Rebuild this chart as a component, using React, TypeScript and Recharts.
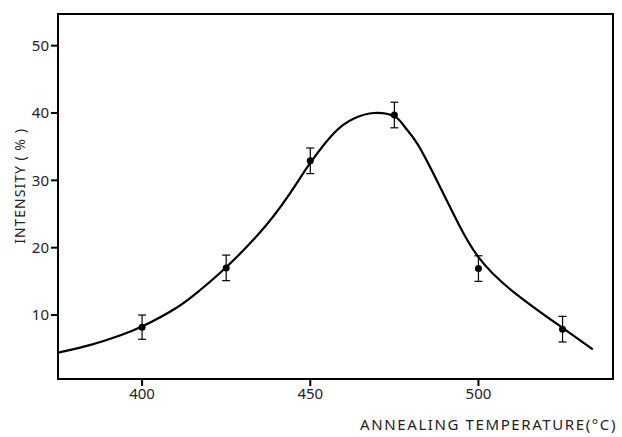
import React from "react";
import {
  ComposedChart, Line, Scatter, ErrorBar, XAxis, YAxis, ReferenceArea, Label,
} from "recharts";

// measured points (annealing temperature, intensity %, error)
const temps = [400, 425, 450, 475, 500, 525];
const intensity = [8.2, 17.0, 32.9, 39.7, 16.9, 7.9];
const errors = [1.8, 1.9, 1.9, 1.9, 1.9, 1.9];

// fitted curve
const curveX = [375, 385, 393, 400, 410, 417, 425, 437, 446, 450, 457, 463, 469, 475, 478, 482, 488, 494, 500, 510, 525, 534];
const curveY = [4.4, 5.6, 6.9, 8.3, 11.0, 13.6, 17.1, 23.4, 29.6, 32.6, 37.0, 39.2, 40.0, 39.5, 38.0, 35.3, 29.6, 23.6, 18.6, 13.6, 8.1, 4.9];

const xTicks = [400, 450, 500];
const yTicks = [10, 20, 30, 40, 50];

const points = temps.map((t, i) => ({ t, v: intensity[i], err: errors[i] }));
const curve = curveX.map((t, i) => ({ t, c: curveY[i] }));

const FONT = "'Noto Sans', sans-serif";
const X_DOMAIN: [number, number] = [375, 540];
const Y_DOMAIN: [number, number] = [0.5, 54.7];

const Dot = (props: any) => <circle cx={props.cx} cy={props.cy} r={3.5} fill="#000" />;

export default function App() {
  return (
    <div style={{ position: "absolute", left: 0, top: 0, background: "#fff" }}>
      <ComposedChart width={622} height={437} margin={{ top: 14, right: 9, bottom: 0, left: 0 }}>
        <XAxis
          type="number" dataKey="t" domain={X_DOMAIN} ticks={xTicks} allowDataOverflow
          height={58} stroke="#000" strokeWidth={2} tickSize={7}
          tick={{ fill: "#222", fontSize: 15, fontFamily: FONT }}
        >
          <Label
            content={({ viewBox }: any) => (
              <text x={viewBox.x + viewBox.width + 4} y={viewBox.y + 51} textAnchor="end"
                fill="#222" fontSize={15} fontFamily={FONT} letterSpacing={1.6}>
                ANNEALING TEMPERATURE(°C)
              </text>
            )}
          />
        </XAxis>
        <YAxis
          type="number" domain={Y_DOMAIN} ticks={yTicks} allowDataOverflow
          width={58} stroke="#000" strokeWidth={2} tickSize={7}
          tick={{ fill: "#222", fontSize: 15, fontFamily: FONT }}
        >
          <Label
            content={() => (
              <text x={25} y={186} transform="rotate(-90 25 186)" textAnchor="middle"
                fill="#222" fontSize={14} fontFamily={FONT} letterSpacing={1}>
                INTENSITY ( % )
              </text>
            )}
          />
        </YAxis>
        <ReferenceArea x1={X_DOMAIN[0]} x2={X_DOMAIN[1]} y1={Y_DOMAIN[0]} y2={Y_DOMAIN[1]}
          fill="none" stroke="#000" strokeWidth={2} fillOpacity={0} />
        <Line data={curve} dataKey="c" type="natural" stroke="#000" strokeWidth={2.2}
          dot={false} isAnimationActive={false} />
        <Scatter data={points} dataKey="v" shape={<Dot />} isAnimationActive={false}>
          <ErrorBar dataKey="err" direction="y" width={4} stroke="#000" strokeWidth={1.2} />
        </Scatter>
      </ComposedChart>
    </div>
  );
}
